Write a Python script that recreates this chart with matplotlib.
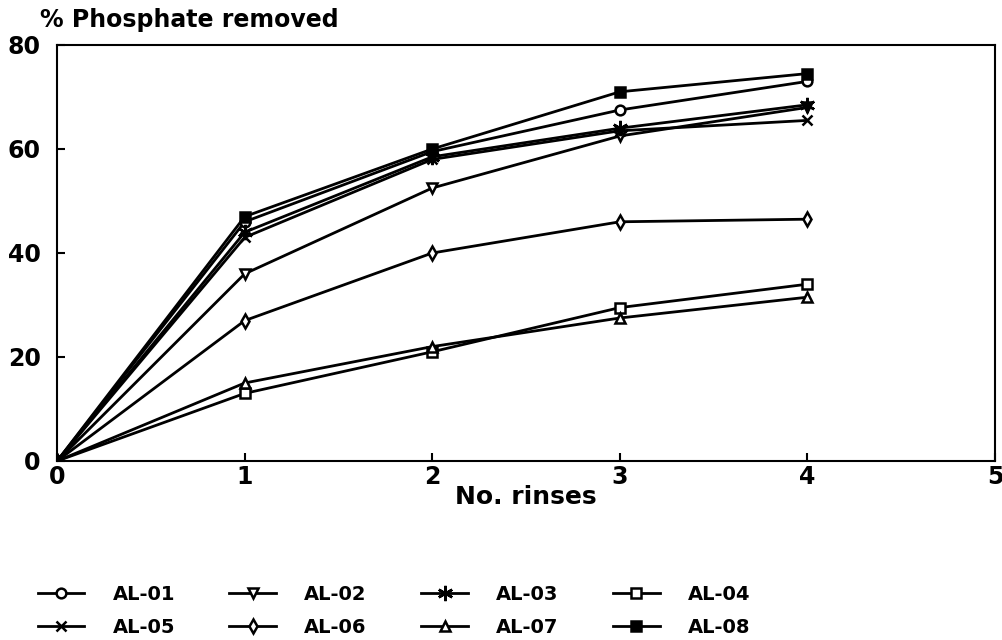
import numpy as np
import matplotlib
matplotlib.use("Agg")
import matplotlib.pyplot as plt

plt.rcParams['font.family'] = 'DejaVu Sans'
plt.rcParams['font.weight'] = 'bold'

rinses = [0, 1, 2, 3, 4]
al01 = [0, 46, 59.5, 67.5, 73]
al02 = [0, 36, 52.5, 62.5, 68]
al03 = [0, 44, 58.5, 64, 68.5]
al04 = [0, 13, 21, 29.5, 34]
al05 = [0, 43, 58, 63.5, 65.5]
al06 = [0, 27, 40, 46, 46.5]
al07 = [0, 15, 22, 27.5, 31.5]
al08 = [0, 47, 60, 71, 74.5]

series = [
    ("AL-01", al01, "o", "white", 7),
    ("AL-02", al02, "v", "white", 7),
    ("AL-03", al03, (6, 2, 0), "black", 11),
    ("AL-04", al04, "s", "white", 7),
    ("AL-05", al05, "x", "black", 7),
    ("AL-06", al06, "d", "white", 7),
    ("AL-07", al07, "^", "white", 7),
    ("AL-08", al08, "s", "black", 7),
]

fig = plt.figure(figsize=(10.03, 6.4), dpi=100)
ax = fig.add_axes([0.057, 0.2797, 0.935, 0.65])

handles = {}
for name, vals, mk, fc, ms in series:
    ln, = ax.plot(rinses, vals, color="black", lw=2, marker=mk, ms=ms,
                  mfc=fc, mec="black", mew=1.8, label=name)
    handles[name] = ln

ax.set_xlim(0, 5)
ax.set_ylim(0, 80)
ax.set_xticks([0, 1, 2, 3, 4, 5])
ax.set_yticks([0, 20, 40, 60, 80])
ax.tick_params(direction="in", length=6, width=1.5, labelsize=17)
ax.tick_params(axis="y", pad=12)
ax.tick_params(axis="x", pad=3)
for s in ax.spines.values():
    s.set_linewidth(1.5)
ax.set_xlabel("No. rinses", fontsize=18, fontweight="bold", labelpad=-3)
fig.text(0.04, 0.968, "% Phosphate removed", fontsize=17, fontweight="bold",
         ha="left", va="center")

# legend filled row by row (two rows of four)
order = ["AL-01", "AL-05", "AL-02", "AL-06", "AL-03", "AL-07", "AL-04", "AL-08"]
fig.legend([handles[n] for n in order], order, loc="lower left",
           bbox_to_anchor=(0.02, -0.023), ncol=4, frameon=False, fontsize=14,
           handlelength=2.4, columnspacing=2.8, labelspacing=0.75,
           handletextpad=1.45)

fig.savefig("out.png", dpi=100)
